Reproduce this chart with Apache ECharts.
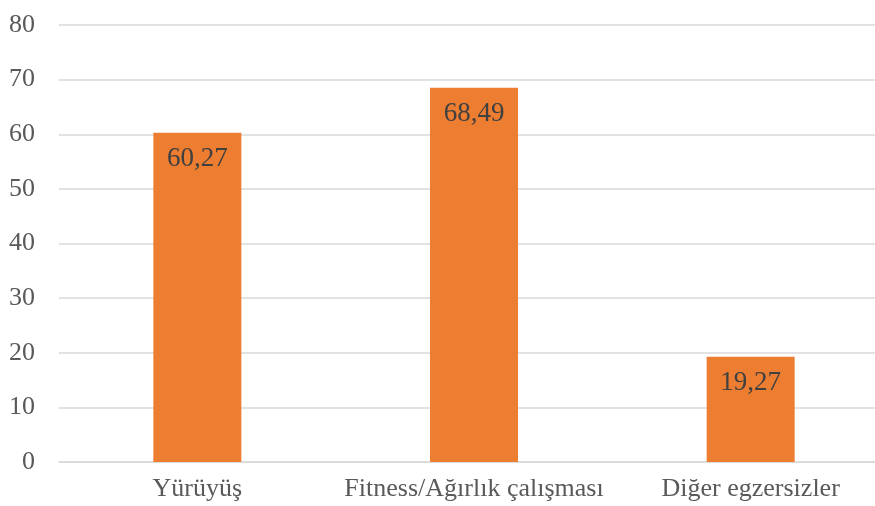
<!DOCTYPE html>
<html>
<head>
<meta charset="utf-8">
<script src="https://cdn.jsdelivr.net/npm/echarts@6/dist/echarts.min.js"></script>
<style>html,body{margin:0;padding:0;background:#fff}#c{width:875px;height:506px}</style>
</head>
<body>
<div id="c"></div>
<script>
const categories = ['Yürüyüş', 'Fitness/Ağırlık çalışması', 'Diğer egzersizler'];
const values = [60.27, 68.49, 19.27];
const yTicks = [0, 10, 20, 30, 40, 50, 60, 70, 80];

const chart = echarts.init(document.getElementById('c'));
chart.setOption({
  animation: false,
  grid: { left: 59, top: 25, width: 830, bottom: 44, outerBoundsMode: 'none', containLabel: false },
  xAxis: {
    type: 'category',
    data: categories,
    axisLine: { lineStyle: { color: '#d9d9d9', width: 1.5 } },
    axisTick: { show: false },
    axisLabel: { color: '#595959', fontFamily: 'Liberation Serif', fontSize: 26, margin: 14, interval: 0 }
  },
  yAxis: {
    type: 'value',
    min: yTicks[0],
    max: yTicks[yTicks.length - 1],
    interval: 10,
    axisLine: { show: false },
    axisTick: { show: false },
    splitLine: { lineStyle: { color: '#d9d9d9', width: 1.5 } },
    axisLabel: { color: '#595959', fontFamily: 'Liberation Serif', fontSize: 26, margin: 24 }
  },
  series: [{
    type: 'bar',
    data: values,
    barWidth: 88,
    itemStyle: { color: '#ED7D31' },
    label: {
      show: true,
      position: 'insideTop',
      distance: 13,
      formatter: p => String(p.value).replace('.', ','),
      color: '#404040',
      fontFamily: 'Liberation Serif',
      fontSize: 27
    }
  }]
});
</script>
</body>
</html>
